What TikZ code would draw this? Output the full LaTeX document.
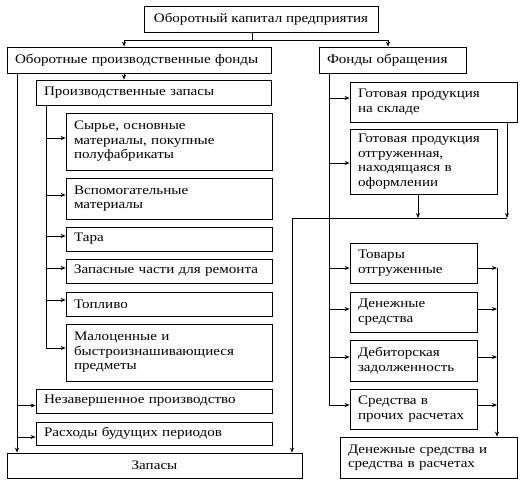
\documentclass[tikz,border=0pt]{standalone}
\usepackage{fontspec}
\setmainfont{Liberation Serif}[FakeStretch=1.16]
\usetikzlibrary{arrows.meta}
\begin{document}
\begin{tikzpicture}[x=1pt,y=-1pt,
 bx/.style={draw, line width=0.8pt, rectangle, inner xsep=8pt, inner ysep=1pt, align=left, font=\fontsize{13}{14.5}\selectfont},
 ln/.style={line width=0.8pt},
 ar/.style={line width=0.8pt, -{Stealth[length=5pt,width=4pt]}}]
\useasboundingbox (0,0) rectangle (525,484);
% nodes
\node[bx, minimum width=234pt, minimum height=26pt, align=center] (top) at (261,19) {Оборотный капитал предприятия};
\node[bx, minimum width=264pt, text width=248pt, minimum height=26pt] (opf) at (139,60) {Оборотные производственные фонды};
\node[bx, minimum width=147pt, text width=131pt, minimum height=26pt] (fo) at (392.5,60) {Фонды обращения};
\node[bx, minimum width=235pt, text width=219pt, minimum height=25pt] (pz) at (153.5,92.5) {Производственные запасы};
\node[bx, minimum width=206pt, text width=190pt, minimum height=57pt] (syr) at (169,141.5) {Сырье, основные\\материалы, покупные\\полуфабрикаты};
\node[bx, minimum width=206pt, text width=190pt, minimum height=41pt] (vsp) at (169,198.5) {Вспомогательные\\материалы};
\node[bx, minimum width=206pt, text width=190pt, minimum height=24pt] (tara) at (169,239) {Тара};
\node[bx, minimum width=206pt, text width=190pt, minimum height=24pt] (zch) at (169,271) {Запасные части для ремонта};
\node[bx, minimum width=206pt, text width=190pt, minimum height=24pt] (topl) at (169,304) {Топливо};
\node[bx, minimum width=206pt, text width=190pt, minimum height=57pt] (malo) at (169,352.5) {Малоценные и\\быстроизнашивающиеся\\предметы};
\node[bx, minimum width=236pt, text width=220pt, minimum height=24pt] (nez) at (154,401) {Незавершенное производство};
\node[bx, minimum width=236pt, text width=220pt, minimum height=23pt] (rash) at (154,433.5) {Расходы будущих периодов};
\node[bx, minimum width=295pt, minimum height=25pt, align=center] (zapasy) at (154.5,465.5) {Запасы};
\node[bx, minimum width=167pt, text width=151pt, minimum height=40pt] (gps) at (433.5,102) {Готовая продукция\\на складе};
\node[bx, minimum width=147pt, text width=131pt, minimum height=65pt] (gpo) at (423.5,161.5) {Готовая продукция\\отгруженная,\\находящаяся в\\оформлении};
\node[bx, minimum width=127pt, text width=111pt, minimum height=40pt] (tov) at (413.5,263) {Товары\\отгруженные};
\node[bx, minimum width=127pt, text width=111pt, minimum height=40pt] (den) at (413.5,312) {Денежные\\средства};
\node[bx, minimum width=127pt, text width=111pt, minimum height=41pt] (deb) at (413.5,360.5) {Дебиторская\\задолженность};
\node[bx, minimum width=127pt, text width=111pt, minimum height=40pt] (sred) at (413.5,409) {Средства в\\прочих расчетах};
\node[bx, minimum width=177pt, text width=161pt, minimum height=41pt] (dsr) at (428.5,457.5) {Денежные средства и\\средства в расчетах};
% helper columns/rows
\coordinate (xs) at (252,40);
\coordinate (x124) at (124,0);
\coordinate (x388) at (388,0);
\coordinate (x46) at (46,0);
\coordinate (x17) at (17,0);
\coordinate (x329) at (329,0);
\coordinate (x507) at (507,0);
\coordinate (x418) at (418,0);
\coordinate (x292) at (292,218);
\coordinate (x497) at (497,0);
% connectors
\draw[ln] (xs |- top.south) -- (xs);
\draw[ar] (xs) -| (x124 |- opf.north);
\draw[ar] (xs) -| (x388 |- fo.north);
\draw[ar] (x124 |- opf.south) -- (x124 |- pz.north);
\foreach \n/\s in {syr/3.5,vsp/3.5,tara/3,zch/3,topl/4,malo/4.5}
  \draw[ar] (x46 |- pz.south) |- ([yshift=\s pt]\n.west);
\draw[ar] (x17 |- opf.south) |- ([yshift=-4.5pt]nez.west);
\draw[ar] (x17 |- opf.south) |- ([yshift=-3.5pt]rash.west);
\draw[ar] (x17 |- opf.south) -- (x17 |- zapasy.north);
\foreach \n/\s in {gps/4,gpo/-1.5,tov/-5,den/3,deb/3.5,sred/4}
  \draw[ar] (x329 |- fo.south) |- ([yshift=\s pt]\n.west);
\draw[ar] (x507 |- gps.south) -- (x507 |- x292);
\draw[ar] (x418 |- gpo.south) -- (x418 |- x292);
\draw[ar] (x507 |- x292) -- (x292) -- (x292 |- zapasy.north);
\foreach \n/\s in {tov/-5,den/3,deb/3.5,sred/4}{
  \coordinate (e\n) at ([yshift=\s pt]\n.east);
  \draw[ar] (e\n) -- (x497 |- e\n);
}
\draw[ar] (x497 |- etov) -- (x497 |- dsr.north);
\end{tikzpicture}
\end{document}
